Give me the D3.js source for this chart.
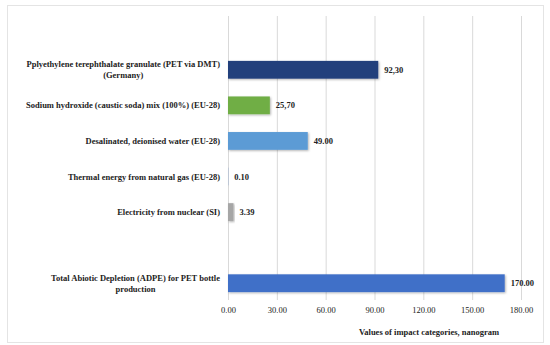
<!DOCTYPE html>
<html><head><meta charset="utf-8">
<script src="https://cdn.jsdelivr.net/npm/d3@7"></script>
<style>body{margin:0;background:#fff}svg{display:block}</style>
</head><body>
<svg id="c" width="550" height="345"></svg>
<script>
const categories = [
  "Pplyethylene terephthalate granulate (PET via DMT)|(Germany)",
  "Sodium hydroxide (caustic soda) mix (100%) (EU-28)",
  "Desalinated, deionised water (EU-28)",
  "Thermal energy from natural gas (EU-28)",
  "Electricity from nuclear (SI)",
  "",
  "Total Abiotic Depletion (ADPE) for PET bottle|production"
];
const values = [92.3, 25.7, 49.0, 0.1, 3.39, null, 170.0];
const valueLabels = ["92,30", "25,70", "49.00", "0.10", "3.39", "", "170.00"];
const colors = ["#213f7c", "#6fae45", "#5b9bd5", "#4472c4", "#a6a6a6", "#fff", "#4170c8"];
const ticks = [0, 30, 60, 90, 120, 150, 180];
const tickLabels = ["0.00", "30.00", "60.00", "90.00", "120.00", "150.00", "180.00"];
const axisTitle = "Values of impact categories, nanogram";

const svg = d3.select("#c");
const font = "'Liberation Serif', 'DejaVu Serif', serif";

svg.append("rect").attr("x", 7.5).attr("y", 5.5).attr("width", 536).attr("height", 337)
  .attr("fill", "#fff").attr("stroke", "#e4e4e4").attr("stroke-width", 1);

const x = d3.scaleLinear().domain([0, 180]).range([228, 521]);
const y = d3.scaleBand().domain(d3.range(categories.length)).range([52, 301]).paddingInner(0.5).paddingOuter(0.25);

const defs = svg.append("defs");
const f = defs.append("filter").attr("id", "sh").attr("x", "-10%").attr("y", "-30%").attr("width", "130%").attr("height", "170%");
f.append("feDropShadow").attr("dx", 1).attr("dy", 1).attr("stdDeviation", 0.8).attr("flood-color", "#000").attr("flood-opacity", 0.3);

const xAxis = d3.axisBottom(x).tickValues(ticks).tickSize(-(300 - 16)).tickFormat((d, i) => tickLabels[i]);
const gx = svg.append("g").attr("transform", "translate(0,300)").call(xAxis);
gx.select(".domain").remove();
gx.selectAll(".tick line").attr("stroke", "#d9d9d9").attr("stroke-width", 1);
gx.selectAll(".tick text").attr("font-family", font).attr("font-size", 8.5).attr("fill", "#222")
  .attr("y", 13).attr("dy", 0);

const bars = svg.append("g");
categories.forEach((c, i) => {
  if (values[i] == null) return;
  bars.append("rect")
    .attr("x", x(0)).attr("y", y(i))
    .attr("width", Math.max(0, x(values[i]) - x(0)))
    .attr("height", y.bandwidth())
    .attr("fill", colors[i])
    .attr("filter", "url(#sh)");
  bars.append("text")
    .attr("x", x(values[i]) + 6).attr("y", y(i) + y.bandwidth() / 2 + 3)
    .attr("font-family", font).attr("font-size", 8.5).attr("font-weight", "bold").attr("fill", "#222")
    .text(valueLabels[i]);
});

categories.forEach((c, i) => {
  if (!c) return;
  const lines = c.split("|");
  const t = svg.append("text").attr("font-family", font).attr("font-size", 8.5)
    .attr("font-weight", "bold").attr("fill", "#222");
  const cy = y(i) + y.bandwidth() / 2;
  const lh = 11;
  const y0 = cy - (lines.length - 1) * lh / 2 + 3;
  lines.forEach((l, k) => {
    t.append("tspan").attr("y", y0 + k * lh).text(l);
  });
  const widths = [];
  t.selectAll("tspan").each(function () { widths.push(this.getComputedTextLength()); });
  const W = d3.max(widths);
  const right = 220;
  t.selectAll("tspan").attr("text-anchor", "middle").attr("x", right - W / 2);
});

svg.append("text").attr("x", 429).attr("y", 335).attr("text-anchor", "middle")
  .attr("font-family", font).attr("font-size", 8.5).attr("font-weight", "bold").attr("fill", "#222")
  .text(axisTitle);
</script>
</body></html>
